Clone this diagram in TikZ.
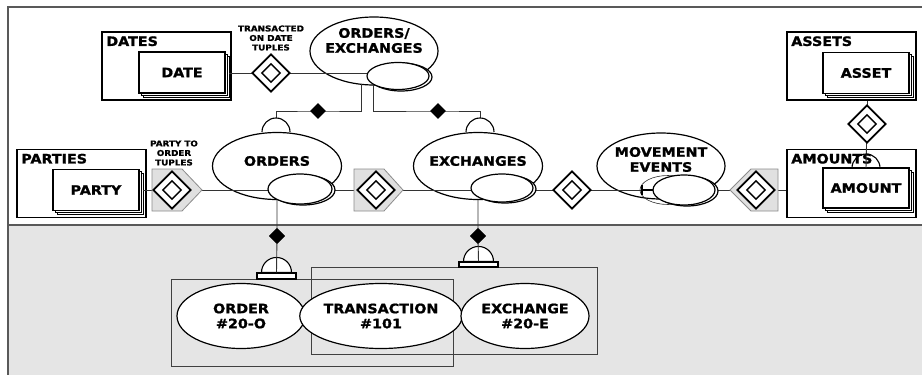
\documentclass[tikz,border=0pt]{standalone}
\usepackage{fontspec}
\usetikzlibrary{shapes.geometric}
\newfontfamily\lblfont{DejaVu Sans}[FakeStretch=1.1, BoldFeatures={FakeBold=1.3}]
\begin{document}
\begin{tikzpicture}[x=1pt,y=1pt,
  lbl/.style={font=\lblfont\bfseries\fontsize{13}{15}\selectfont, align=center, inner sep=0pt},
  small/.style={font=\lblfont\bfseries\fontsize{8}{9.5}\selectfont, align=center, inner sep=0pt},
  frameline/.style={draw=black!65, line width=1.4pt},
  outerbox/.style={draw, line width=1.8pt, inner sep=0pt, minimum width=129pt, minimum height=68pt},
  stackbox/.style={draw, fill=white, line width=1.3pt, inner sep=0pt, minimum width=86pt, minimum height=41pt,
    font=\lblfont\bfseries\fontsize{13}{15}\selectfont},
  backbox/.style={stackbox, line width=0.8pt},
  bigell/.style={ellipse, draw, fill=white, line width=1.2pt, inner sep=0pt, minimum width=129pt, minimum height=67pt},
  subell/.style={ellipse, draw, fill=white, line width=1.2pt, inner sep=0pt, minimum width=62pt, minimum height=28pt},
  thinell/.style={ellipse, draw=black!80, line width=0.6pt, inner sep=0pt, minimum width=56pt, minimum height=29pt},
  instell/.style={ellipse, draw, fill=white, line width=1.2pt, inner sep=0pt, minimum width=128pt, minimum height=65pt,
    align=center, font=\lblfont\bfseries\fontsize{13}{15}\selectfont},
  conn/.style={draw=black!80, line width=0.9pt},
  reldiam/.style={diamond, draw, fill=white, line width=1.8pt, inner sep=0pt, minimum width=38pt, minimum height=38pt},
  innerdiam/.style={diamond, draw, line width=1.4pt, inner sep=0pt, minimum width=19pt, minimum height=19pt},
  keydiam/.style={diamond, fill=black, inner sep=0pt, minimum width=16pt, minimum height=16pt},
  pent/.style={draw=black!45, fill=black!12, line width=0.8pt},
  grpbox/.style={draw=black!75, line width=0.9pt, inner sep=0pt},
  capline/.style={draw, line width=1.1pt},
  barbox/.style={draw, fill=white, line width=1.1pt, inner sep=0pt, minimum width=39pt, minimum height=6pt},
  tickline/.style={line width=1.6pt}
]
\useasboundingbox (0,0) rectangle (922,-375);
\fill[white] (0,0) rectangle (922,-375);
\fill[black!10] (8,-225) rectangle (922,-375);
\draw[frameline] (922,-7) -- (8,-7) -- (8,-375);
\draw[frameline] (8,-225) -- (922,-225);

% ---- entity sets with stacked entity boxes ----
\node[outerbox] (dates) at (166.5,-66) {};
\node[lbl, anchor=north west] (datesT) at ([shift={(5,-5)}]dates.north west) {DATES};
\node[backbox] (dateB2) at (186,-76.5) {};
\node[backbox] (dateB1) at (184,-74.5) {};
\node[stackbox] (date) at (182,-72.5) {DATE};

\node[outerbox] (parties) at (81.5,-183.5) {};
\node[lbl, anchor=north west] (partiesT) at ([shift={(5,-5)}]parties.north west) {PARTIES};
\node[backbox] (partyB2) at (100,-194) {};
\node[backbox] (partyB1) at (98,-192) {};
\node[stackbox] (party) at (96,-190) {PARTY};

\node[outerbox] (assets) at (851.5,-66) {};
\node[lbl, anchor=north west] (assetsT) at ([shift={(5,-5)}]assets.north west) {ASSETS};
\node[backbox] (assetB2) at (870,-77) {};
\node[backbox] (assetB1) at (868,-75) {};
\node[stackbox] (asset) at (866,-73) {ASSET};

\node[outerbox] (amounts) at (851.5,-183.5) {};
\node[lbl, anchor=north west] (amountsT) at ([shift={(5,-5)}]amounts.north west) {AMOUNTS};
\node[backbox, minimum height=40pt] (amountB2) at (870,-192) {};
\node[backbox, minimum height=40pt] (amountB1) at (868,-190) {};
\node[stackbox, minimum height=40pt] (amount) at (866,-188) {AMOUNT};

% ---- event ellipses ----
\node[bigell, minimum width=128pt, minimum height=68pt] (oe) at (374,-51) {};
\node[lbl] (oeT) at (374,-40.5) {ORDERS/\\EXCHANGES};
\node[bigell] (ord) at (277,-166) {};
\node[lbl] (ordT) at (277,-161) {ORDERS};
\node[bigell] (exc) at (478,-166) {};
\node[lbl] (excT) at (478,-161) {EXCHANGES};
\node[bigell, minimum width=128pt, minimum height=66pt] (mov) at (661,-166) {};
\node[lbl] (movT) at (661,-159.5) {MOVEMENT\\EVENTS};

% ---- relationship diamonds ----
\coordinate (dTc) at (271,-73);
\coordinate (dPc) at (172,-190);
\coordinate (dOc) at (376,-190);
\coordinate (dEc) at (572,-190);
\coordinate (dMc) at (756,-190);
\coordinate (dAc) at (867,-124);

% ---- connectors ----
\coordinate (tick) at (642,-190);
\draw[conn] (dTc) ++(-19,0) coordinate (dTw) -- (dTw -| dateB2.east);
\draw[conn] (dTc) -- (367,-73) coordinate (oeIn);
\draw[conn] (dPc) -- (partyB2.east |- dPc);
\draw[conn] (dPc) -- (269,-190) coordinate (ordIn);
\draw[conn] (333,-190) coordinate (ordOut) -- (dOc);
\draw[conn] (dOc) -- (472,-190) coordinate (excIn);
\draw[conn] (533,-190) coordinate (excOut) -- (dEc);
\draw[conn] (dEc) -- (tick);
\draw[conn] (715,-190) coordinate (movOut) -- (dMc);
\draw[conn] (dMc) -- (amounts.west |- dMc);
\draw[conn] (assets.south -| dAc) -- (dAc);
\coordinate (amtCap) at (866,-168);
\draw[conn] (dAc) -- (amtCap);

% subtype links from ORDERS/EXCHANGES
\coordinate (oeL) at (361,-84);
\coordinate (oeR) at (373,-84);
\coordinate (kOc) at (318,-111);
\coordinate (kEc) at (438,-111);
\coordinate (ordCap) at (276,-118);
\coordinate (excCap) at (480,-118);
\draw[conn] (oeL) -- (oeL |- kOc) -- (kOc) -- (kOc -| ordCap) -- (ordCap);
\draw[conn] (oeR) -- (oeR |- kEc) -- (kEc) -- (kEc -| excCap) -- (excCap);
\node[keydiam] (kO) at (kOc) {};
\node[keydiam] (kE) at (kEc) {};
\draw[capline] (ordCap) ++(-14,-14) arc[start angle=180, end angle=0, radius=14];
\draw[capline] (excCap) ++(-14,-14) arc[start angle=180, end angle=0, radius=14];

% sub-ellipses (drawn over the connectors)
\node[subell] (oeSb) at (401,-77) {};
\node[subell, minimum height=27pt] (oeS) at (398,-76) {};
\node[subell, minimum width=64pt, minimum height=30pt] (ordSb) at (303,-190) {};
\node[subell, minimum width=64pt, minimum height=30pt] (ordS) at (300,-189) {};
\node[subell] (excSb) at (505,-189) {};
\node[subell] (excS) at (502,-188) {};
\node[thinell] (movSt) at (668,-190) {};
\node[subell, minimum height=30pt] (movSb) at (687,-191) {};
\node[subell, minimum height=30pt] (movS) at (684,-190) {};
\draw[tickline] (tick) ++(0,5) -- ++(0,-10);
\draw[tickline] (tick) -- ++(11,0);

% gray arrow backings of the relationships
\draw[pent] (dPc) ++(-20,21) -- ++(30,0) -- ++(20,-21) -- ++(-20,-21) -- ++(-30,0) -- cycle;
\draw[pent] (dOc) ++(-22,21) -- ++(30,0) -- ++(19,-21) -- ++(-19,-21) -- ++(-30,0) -- cycle;
\draw[pent] (dMc) ++(22,21) -- ++(-27,0) -- ++(-21,-21) -- ++(21,-21) -- ++(27,0) -- cycle;

% diamonds
\foreach \d in {dT,dP,dO,dE,dM,dA} {
  \node[reldiam] (\d) at (\d c) {};
  \node[innerdiam] (\d i) at (\d c) {};
}
\node[small] (dTlbl) at (271,-38) {TRANSACTED\\ON DATE\\TUPLES};
\node[small] (dPlbl) at (174,-153) {PARTY TO\\ORDER\\TUPLES};

% cap on the AMOUNT entity
\draw[capline] (amtCap) ++(-14,0) arc[start angle=180, end angle=0, radius=14];

% ---- instance level ----
\node[grpbox, minimum width=282pt, minimum height=87pt] (grpO) at (312,-322.5) {};
\node[grpbox, minimum width=286pt, minimum height=87pt] (grpE) at (454,-310.5) {};
\coordinate (ordDown) at (277,-200);
\coordinate (excDown) at (478,-200);
\node[keydiam] (kOi) at (277,-236) {};
\node[keydiam] (kEi) at (478,-236) {};
\node[barbox] (barO) at (276.5,-276) {};
\node[barbox, minimum height=5pt] (barE) at (478.5,-264.5) {};
\draw[capline, fill=white] (barO.north) ++(-15,0) arc[start angle=180, end angle=0, radius=15] -- cycle;
\draw[capline, fill=white] (barE.north) ++(-15,0) arc[start angle=180, end angle=0, radius=15] -- cycle;
\draw[conn] (ordDown) -- (kOi) -- (barO.north);
\draw[conn] (excDown) -- (kEi) -- (barE.north);
\node[keydiam] at (kOi) {};
\node[keydiam] at (kEi) {};

\node[instell] (o20) at (241,-316) {ORDER\\\#20-O};
\node[instell] (t101) at (381,-316) {TRANSACTION\\\#101};
\node[instell] (e20) at (525,-316) {EXCHANGE\\\#20-E};
\end{tikzpicture}
\end{document}
